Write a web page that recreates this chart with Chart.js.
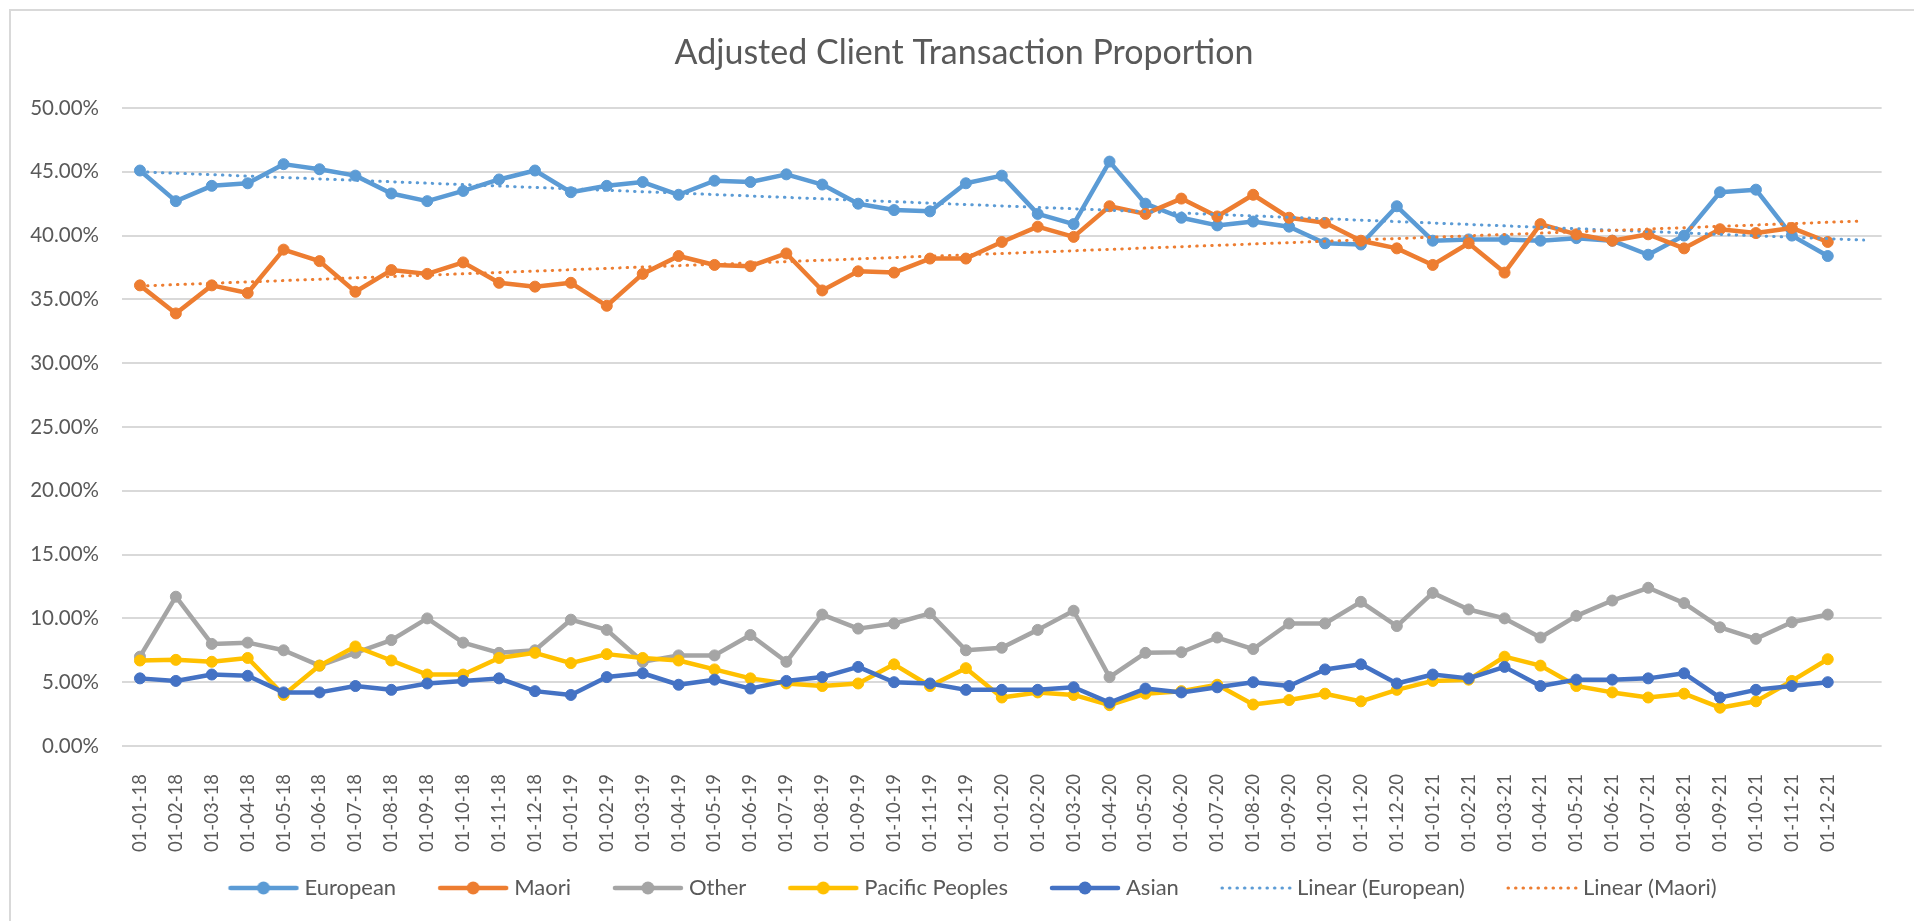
<!DOCTYPE html>
<html>
<head>
<meta charset="utf-8">
<title>Adjusted Client Transaction Proportion</title>
<script src="https://cdn.jsdelivr.net/npm/chart.js@4.4.1/dist/chart.umd.min.js"></script>
<style>
  html, body { margin: 0; padding: 0; background: #fff; }
  canvas { display: block; }
</style>
</head>
<body>
<canvas id="chart" width="1914" height="921"></canvas>
<script>
    // --- Data (percent) ---
    // last category is empty, the trend lines run into it
    const months = [
      '01-01-18', '01-02-18', '01-03-18', '01-04-18', '01-05-18', '01-06-18',
      '01-07-18', '01-08-18', '01-09-18', '01-10-18', '01-11-18', '01-12-18',
      '01-01-19', '01-02-19', '01-03-19', '01-04-19', '01-05-19', '01-06-19',
      '01-07-19', '01-08-19', '01-09-19', '01-10-19', '01-11-19', '01-12-19',
      '01-01-20', '01-02-20', '01-03-20', '01-04-20', '01-05-20', '01-06-20',
      '01-07-20', '01-08-20', '01-09-20', '01-10-20', '01-11-20', '01-12-20',
      '01-01-21', '01-02-21', '01-03-21', '01-04-21', '01-05-21', '01-06-21',
      '01-07-21', '01-08-21', '01-09-21', '01-10-21', '01-11-21', '01-12-21',
      ''
    ];

    const european = [
      45.1, 42.7, 43.9, 44.1, 45.6, 45.2, 44.7, 43.3, 42.7, 43.5, 44.4, 45.1,
      43.4, 43.9, 44.2, 43.2, 44.3, 44.2, 44.8, 44.0, 42.5, 42.0, 41.9, 44.1,
      44.7, 41.7, 40.9, 45.8, 42.5, 41.4, 40.8, 41.1, 40.7, 39.4, 39.3, 42.3,
      39.6, 39.7, 39.7, 39.6, 39.8, 39.6, 38.5, 40.0, 43.4, 43.6, 40.0, 38.4
    ];
    const maori = [
      36.1, 33.9, 36.1, 35.5, 38.9, 38.0, 35.6, 37.3, 37.0, 37.9, 36.3, 36.0,
      36.3, 34.5, 37.0, 38.4, 37.7, 37.6, 38.6, 35.7, 37.2, 37.1, 38.2, 38.2,
      39.5, 40.7, 39.9, 42.3, 41.7, 42.9, 41.5, 43.2, 41.4, 41.0, 39.6, 39.0,
      37.7, 39.4, 37.1, 40.9, 40.1, 39.6, 40.1, 39.0, 40.5, 40.2, 40.6, 39.5
    ];
    const other = [
      7.0, 11.7, 8.0, 8.1, 7.5, 6.3, 7.3, 8.3, 10.0, 8.1, 7.3, 7.5,
      9.9, 9.1, 6.6, 7.1, 7.1, 8.7, 6.6, 10.3, 9.2, 9.6, 10.4, 7.5,
      7.7, 9.1, 10.6, 5.4, 7.3, 7.35, 8.5, 7.6, 9.6, 9.6, 11.3, 9.4,
      12.0, 10.7, 10.0, 8.5, 10.2, 11.4, 12.4, 11.2, 9.3, 8.4, 9.7, 10.3
    ];
    const pacific = [
      6.7, 6.75, 6.6, 6.9, 4.0, 6.3, 7.8, 6.7, 5.6, 5.6, 6.9, 7.3,
      6.5, 7.2, 6.9, 6.7, 6.0, 5.3, 4.9, 4.7, 4.9, 6.4, 4.7, 6.1,
      3.8, 4.2, 4.0, 3.2, 4.1, 4.3, 4.8, 3.25, 3.6, 4.1, 3.5, 4.4,
      5.1, 5.2, 7.0, 6.3, 4.7, 4.2, 3.8, 4.1, 3.0, 3.5, 5.1, 6.8
    ];
    const asian = [
      5.3, 5.1, 5.6, 5.5, 4.2, 4.2, 4.7, 4.4, 4.9, 5.1, 5.3, 4.3,
      4.0, 5.4, 5.7, 4.8, 5.2, 4.5, 5.1, 5.4, 6.2, 5.0, 4.9, 4.4,
      4.4, 4.4, 4.6, 3.4, 4.5, 4.2, 4.6, 5.0, 4.7, 6.0, 6.4, 4.9,
      5.6, 5.3, 6.2, 4.7, 5.2, 5.2, 5.3, 5.7, 3.8, 4.4, 4.7, 5.0
    ];

    // trend line ends, first and last category
    const trendEuropean = [45.0, 39.65];
    const trendMaori = [36.05, 41.15];

    const yTicks = { min: 0, max: 50, step: 5 };

    // --- Styles ---
    const FONT = 'Lato, "Open Sans", sans-serif';
    const TEXT = '#595959';
    const GRID = '#d9d9d9';

    function seriesSet(label, data, color, order) {
      return {
        label: label,
        data: data,
        borderColor: color,
        backgroundColor: color,
        borderWidth: 4.5,
        pointRadius: 5.5,
        pointBorderWidth: 1,
        pointBackgroundColor: color,
        pointBorderColor: color,
        borderJoinStyle: 'round',
        tension: 0,
        order: order
      };
    }

    function trendSet(label, ends, color, order) {
      return {
        label: label,
        data: [
          { x: months[0], y: ends[0] },
          { x: months[months.length - 1], y: ends[1] }
        ],
        borderColor: color,
        backgroundColor: color,
        borderWidth: 3,
        borderDash: [0.5, 7],
        borderCapStyle: 'round',
        pointRadius: 0,
        trend: true,
        order: order
      };
    }

    // legend symbol, drawn in the right 72px of a wider image
    // so the gap before it is larger than the gap after it
    const SYM_IMG_W = 94;
    function legendSymbol(color, dotted) {
      const c = document.createElement('canvas');
      c.width = SYM_IMG_W;
      c.height = 16;
      const g = c.getContext('2d');
      const x0 = SYM_IMG_W - 72;
      g.strokeStyle = color;
      g.fillStyle = color;
      g.lineCap = 'round';
      if (dotted) {
        g.lineWidth = 3;
        g.setLineDash([0.5, 7]);
        g.beginPath();
        g.moveTo(x0 + 2, 8);
        g.lineTo(x0 + 70, 8);
        g.stroke();
      } else {
        g.lineWidth = 4.5;
        g.beginPath();
        g.moveTo(x0 + 3, 8);
        g.lineTo(x0 + 69, 8);
        g.stroke();
        g.beginPath();
        g.arc(x0 + 36, 8, 6.5, 0, Math.PI * 2);
        g.fill();
      }
      return c;
    }

    // --- Background and frame (top and left edge only) ---
    const framePlugin = {
      id: 'frame',
      beforeDraw(chart) {
        const ctx = chart.ctx;
        ctx.save();
        ctx.fillStyle = '#fff';
        ctx.fillRect(0, 0, chart.width, chart.height);
        ctx.strokeStyle = GRID;
        ctx.lineWidth = 2;
        ctx.beginPath();
        ctx.moveTo(10, chart.height);
        ctx.lineTo(10, 10);
        ctx.lineTo(chart.width, 10);
        ctx.stroke();
        ctx.restore();
      }
    };

    const ctx = document.getElementById('chart').getContext('2d');

    new Chart(ctx, {
      type: 'line',
      data: {
        labels: months,
        datasets: [
          seriesSet('European', european, '#5B9BD5', 7),
          seriesSet('Maori', maori, '#ED7D31', 6),
          seriesSet('Other', other, '#A5A5A5', 5),
          seriesSet('Pacific Peoples', pacific, '#FFC000', 4),
          seriesSet('Asian', asian, '#4472C4', 3),
          trendSet('Linear (European)', trendEuropean, '#5B9BD5', 2),
          trendSet('Linear (Maori)', trendMaori, '#ED7D31', 1)
        ]
      },
      options: {
        responsive: false,
        animation: false,
        layout: { padding: { left: 27, right: 13, top: 0, bottom: 12 } },
        plugins: {
          title: {
            display: true,
            text: 'Adjusted Client Transaction Proportion',
            color: TEXT,
            font: { family: FONT, size: 34, weight: 'normal' },
            padding: { top: 32.6, bottom: 34.6 }
          },
          legend: {
            position: 'bottom',
            labels: {
              color: TEXT,
              font: { family: FONT, size: 22 },
              usePointStyle: true,
              pointStyleWidth: 82,
              padding: 25,
              generateLabels(chart) {
                return chart.data.datasets.map((ds, i) => ({
                  text: ds.label,
                  pointStyle: legendSymbol(ds.borderColor, ds.trend),
                  fillStyle: ds.borderColor,
                  strokeStyle: ds.borderColor,
                  lineWidth: 0,
                  fontColor: TEXT,
                  hidden: !chart.isDatasetVisible(i),
                  datasetIndex: i
                }));
              }
            }
          },
          tooltip: { enabled: false }
        },
        scales: {
          x: {
            offset: true,
            grid: { display: false, drawTicks: false },
            border: { display: false },
            ticks: {
              autoSkip: false,
              minRotation: 90,
              maxRotation: 90,
              padding: 28,
              color: TEXT,
              font: { family: FONT, size: 18.5 }
            },
            afterFit(scale) { scale.height = 106; }
          },
          y: {
            min: yTicks.min,
            max: yTicks.max,
            grid: { color: GRID, lineWidth: 2, drawTicks: false },
            border: { display: false },
            ticks: {
              stepSize: yTicks.step,
              padding: 23,
              color: TEXT,
              font: { family: FONT, size: 20.5 },
              callback: (v) => v.toFixed(2) + '%'
            },
            afterFit(scale) { scale.width = 95; }
          }
        }
      },
      plugins: [framePlugin]
    });
</script>
</body>
</html>
